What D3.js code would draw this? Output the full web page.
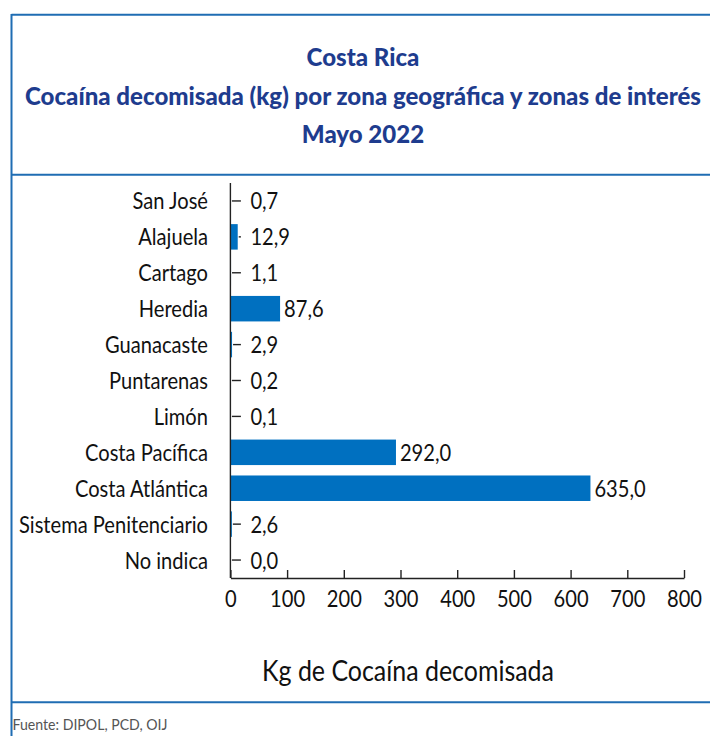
<!DOCTYPE html>
<html><head><meta charset="utf-8">
<script src="https://cdn.jsdelivr.net/npm/d3@7/dist/d3.min.js"></script>
<style>
html,body{margin:0;padding:0;background:#fff;}
svg{display:block;}
</style></head>
<body>
<svg id="chart" width="710" height="736"></svg>
<script>
const titleLines = ["Costa Rica", "Cocaína decomisada (kg) por zona geográfica y zonas de interés", "Mayo 2022"];
const categories = ["San José","Alajuela","Cartago","Heredia","Guanacaste","Puntarenas","Limón","Costa Pacífica","Costa Atlántica","Sistema Penitenciario","No indica"];
const values = [0.7, 12.9, 1.1, 87.6, 2.9, 0.2, 0.1, 292.0, 635.0, 2.6, 0.0];
const xTicks = [0,100,200,300,400,500,600,700,800];
const axisTitle = "Kg de Cocaína decomisada";
const source = "Fuente: DIPOL, PCD, OIJ";

const FONT = "Lato,'Open Sans',sans-serif";
const BLUE_LINE = "#1f6db3";
const TITLE_COL = "#1e3c8e";
const BAR_COL = "#0070c0";

const svg = d3.select("#chart");

function fitGroup(sel, refNode, target){
  const w = refNode.getComputedTextLength();
  const k = target / w;
  sel.each(function(){
    const l = this.getComputedTextLength();
    d3.select(this).attr("textLength", l*k).attr("lengthAdjust","spacingAndGlyphs");
  });
  return k;
}

// frame lines
svg.append("line").attr("x1",11.5).attr("x2",710).attr("y1",14.8).attr("y2",14.8).attr("stroke",BLUE_LINE).attr("stroke-width",2);
svg.append("line").attr("x1",11.5).attr("x2",11.5).attr("y1",14).attr("y2",736).attr("stroke",BLUE_LINE).attr("stroke-width",2);
svg.append("line").attr("x1",11.5).attr("x2",710).attr("y1",174.8).attr("y2",174.8).attr("stroke",BLUE_LINE).attr("stroke-width",2);
svg.append("line").attr("x1",11.5).attr("x2",710).attr("y1",702.3).attr("y2",702.3).attr("stroke",BLUE_LINE).attr("stroke-width",2);

// title
const tBase = [66, 105, 143];
const titles = svg.append("g").selectAll("text").data(titleLines).join("text")
  .attr("x", 363).attr("y", (d,i)=>tBase[i])
  .attr("text-anchor","middle")
  .style("font-family",FONT).style("font-weight","900").style("font-size","24px")
  .attr("fill",TITLE_COL).text(d=>d);
fitGroup(titles, titles.nodes()[1], 676);

// scales
const x = d3.scaleLinear().domain([0,800]).range([230.4, 684]);
const y = d3.scaleBand().domain(categories).range([183, 578]).paddingInner(0.29).paddingOuter(0.145);

const g = svg.append("g");

// bars
g.selectAll("rect.bar").data(values).join("rect").attr("class","bar")
  .attr("x", x(0)).attr("y",(d,i)=>y(categories[i]))
  .attr("width", d=>Math.max(0, x(d)-x(0))).attr("height", y.bandwidth())
  .attr("fill", BAR_COL);

// leader dashes for small values
const cy = c => y(c) + y.bandwidth()/2;
g.selectAll("line.dash").data(values.map((v,i)=>({v,c:categories[i]})).filter(d=>x(d.v) < x(0)+9))
  .join("line").attr("class","dash")
  .attr("x1", d=>Math.max(x(d.v)+1, x(0)+1.5)).attr("x2", x(0)+10.5)
  .attr("y1", d=>cy(d.c)).attr("y2", d=>cy(d.c))
  .attr("stroke","#222").attr("stroke-width",1.4);

// x axis
const xAxis = d3.axisBottom(x).tickValues(xTicks).tickSizeInner(-8).tickSizeOuter(0).tickPadding(0).tickFormat(d3.format("d"));
const xg = svg.append("g").attr("transform","translate(0,578)").call(xAxis);
xg.select(".domain").attr("stroke","#222").attr("stroke-width",1.4);
xg.selectAll(".tick line").attr("stroke","#222").attr("stroke-width",1.4);
xg.selectAll(".tick text").attr("y",29).attr("dy",null)
  .style("font-family",FONT).style("font-size","24px").attr("fill","#111");

// y axis line
svg.append("line").attr("x1",x(0)).attr("x2",x(0)).attr("y1",183).attr("y2",578).attr("stroke","#222").attr("stroke-width",1.4);

// category labels
const cl = svg.append("g").selectAll("text").data(categories).join("text")
  .attr("x",208).attr("y", d=>cy(d)+8.5)
  .attr("text-anchor","end")
  .style("font-family",FONT).style("font-size","24px").attr("fill","#111")
  .text(d=>d);
const kCat = fitGroup(cl, cl.nodes()[9], 189);

// value labels
const fmt = v => d3.format(".1f")(v).replace(".", ",");
const vl = svg.append("g").selectAll("text").data(values).join("text")
  .attr("x", d=>Math.max(x(d)+4, x(0)+20)).attr("y",(d,i)=>cy(categories[i])+8.5)
  .style("font-family",FONT).style("font-size","24px").attr("fill","#111")
  .text(d=>fmt(d));
vl.each(function(){ const l=this.getComputedTextLength(); d3.select(this).attr("textLength",l*kCat).attr("lengthAdjust","spacingAndGlyphs"); });

// tick text compression
const tt = xg.selectAll(".tick text");
tt.each(function(){ const l=this.getComputedTextLength(); d3.select(this).attr("textLength",l*kCat).attr("lengthAdjust","spacingAndGlyphs"); });

// axis title
const at = svg.append("text").attr("x",408).attr("y",681).attr("text-anchor","middle")
  .style("font-family",FONT).style("font-size","29px").attr("fill","#111").text(axisTitle);
fitGroup(at, at.node(), 292);

// source
const src = svg.append("text").attr("x",12.5).attr("y",730).style("font-family",FONT).style("font-size","15px")
  .attr("fill","#555").text(source);
fitGroup(src, src.node(), 155);
</script>
</body></html>
